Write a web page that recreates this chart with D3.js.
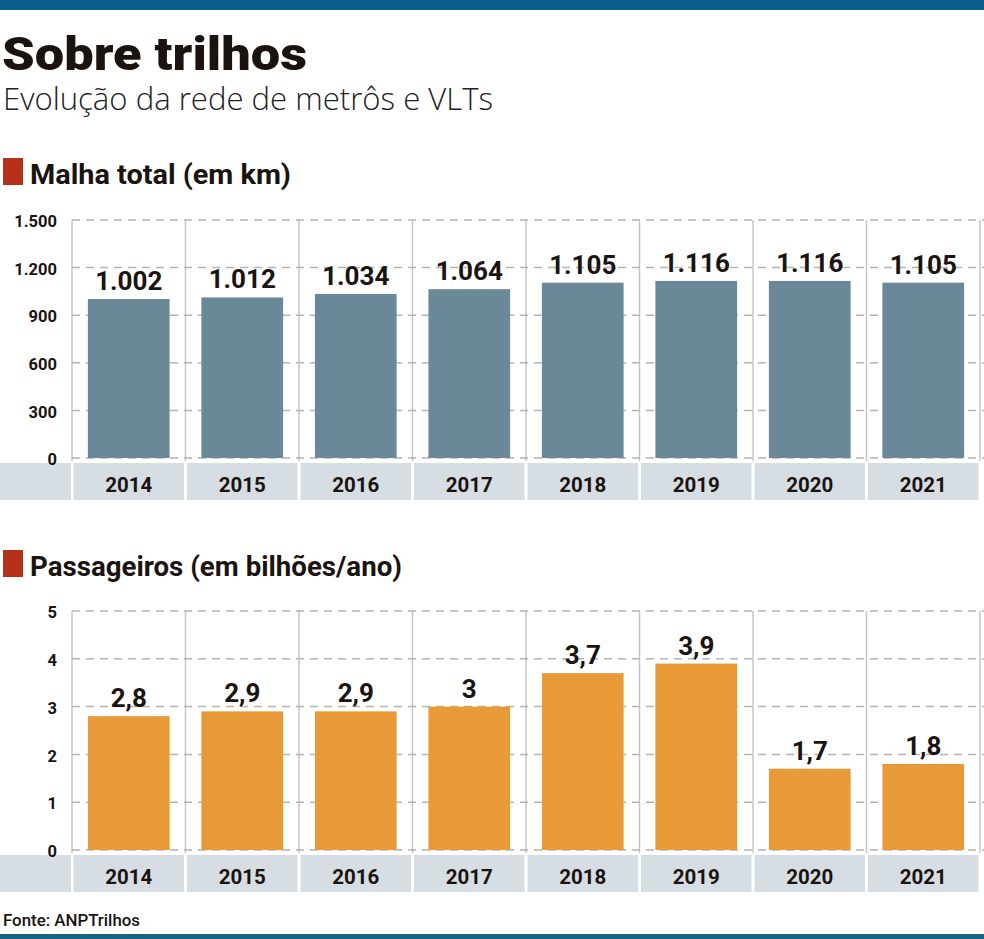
<!DOCTYPE html>
<html><head><meta charset="utf-8">
<script src="https://cdn.jsdelivr.net/npm/d3@7"></script>
<style>body{margin:0;background:#fff}svg{display:block}</style>
</head><body>
<svg id="c" width="984" height="939"></svg>
<script>
const years = ["2014","2015","2016","2017","2018","2019","2020","2021"];
const malha = [1002, 1012, 1034, 1064, 1105, 1116, 1116, 1105];
const passageiros = [2.8, 2.9, 2.9, 3, 3.7, 3.9, 1.7, 1.8];
const malhaTicks = [0, 300, 600, 900, 1200, 1500];
const passTicks = [0, 1, 2, 3, 4, 5];

const loc = d3.formatLocale({decimal: ",", thousands: ".", grouping: [3], currency: ["R$", ""]});
const fmtInt = loc.format(",d");
const fmtDec = v => loc.format(",")(v);

const svg = d3.select("#c");
const FONT = "Roboto, 'Open Sans', sans-serif";

// top & bottom bands
svg.append("rect").attr("x",0).attr("y",0).attr("width",984).attr("height",10).attr("fill","#0b5f8c");
svg.append("rect").attr("x",0).attr("y",934).attr("width",984).attr("height",5).attr("fill","#16667f");

// titles
svg.append("text").attr("x",2).attr("y",70).text("Sobre trilhos")
  .attr("font-family",FONT).attr("font-weight",900).attr("font-size",46).attr("fill","#1a1310")
  .attr("textLength",305).attr("lengthAdjust","spacingAndGlyphs");
svg.append("text").attr("x",3).attr("y",110).text("Evolução da rede de metrôs e VLTs")
  .attr("font-family","'Open Sans', sans-serif").attr("font-weight",300).attr("font-size",31).attr("fill","#222")
  .attr("textLength",490).attr("lengthAdjust","spacingAndGlyphs");

function section(y, label, width){
  svg.append("rect").attr("x",3).attr("y",y-26).attr("width",20).attr("height",27).attr("fill","#b5311c");
  svg.append("text").attr("x",30).attr("y",y).text(label)
    .attr("font-family",FONT).attr("font-weight",700).attr("font-size",27).attr("fill","#1a1310")
    .attr("textLength",width).attr("lengthAdjust","spacingAndGlyphs");
}

function chart(opts){
  const {top, bottom, values, ticks, max, color, tickFmt, valFmt} = opts;
  const g = svg.append("g");
  const x = d3.scaleBand().domain(years).range([72, 980]).paddingInner(0.28).paddingOuter(0.14);
  const y = d3.scaleLinear().domain([0, max]).range([bottom, top]);
  const step = x.step();
  const bounds = d3.range(years.length + 1).map(i => 72 + i * step);

  // category band
  g.append("rect").attr("x",0).attr("y",bottom+5).attr("width",71).attr("height",37).attr("fill","#d6dee4");
  g.selectAll(".cell").data(years).join("rect")
    .attr("x", d => x(d) - x.paddingOuter()*step + 1.5)
    .attr("y", bottom+5).attr("width", step - 3).attr("height", 37).attr("fill","#d6dee4");

  // vertical column lines
  g.selectAll(".vl").data(bounds).join("line")
    .attr("x1", d => d).attr("x2", d => d).attr("y1", top).attr("y2", bottom+3)
    .attr("stroke","#c4c4c4").attr("stroke-width",1.5);

  // dashed grid
  g.selectAll(".hl").data(ticks).join("line")
    .attr("x1",72).attr("x2",984).attr("y1", d => y(d)).attr("y2", d => y(d))
    .attr("stroke","#b4b4b4").attr("stroke-width",1.5).attr("stroke-dasharray","8,6");

  // y axis
  const ax = g.append("g").attr("transform","translate(72,0)")
    .call(d3.axisLeft(y).tickValues(ticks).tickSize(0).tickPadding(15).tickFormat(tickFmt));
  ax.select(".domain").remove();
  ax.selectAll("text").attr("font-family",FONT).attr("font-weight",700).attr("font-size",16.5)
    .attr("fill","#1a1310").attr("dy","0.4em");

  // bars
  g.selectAll(".bar").data(values).join("rect")
    .attr("x", (d,i) => x(years[i])).attr("width", x.bandwidth())
    .attr("y", d => y(d)).attr("height", d => bottom - y(d)).attr("fill", color);

  // value labels
  g.selectAll(".val").data(values).join("text")
    .attr("x", (d,i) => x(years[i]) + x.bandwidth()/2).attr("y", d => y(d) - 9)
    .attr("text-anchor","middle").text(valFmt)
    .attr("font-family",FONT).attr("font-weight",700).attr("font-size",26).attr("fill","#1a1310");

  // year labels
  g.selectAll(".yr").data(years).join("text")
    .attr("x", d => x(d) + x.bandwidth()/2).attr("y", bottom + 34)
    .attr("text-anchor","middle").text(d => d)
    .attr("font-family",FONT).attr("font-weight",700).attr("font-size",20.5).attr("fill","#1a1310");
}

section(184, "Malha total (em km)", 261);
chart({top:220, bottom:458, values:malha, ticks:malhaTicks, max:1500, color:"#6b8898", tickFmt:fmtInt, valFmt:fmtInt});

section(576, "Passageiros (em bilhões/ano)", 372);
chart({top:611, bottom:850, values:passageiros, ticks:passTicks, max:5, color:"#e89a38", tickFmt:d => fmtDec(d), valFmt:fmtDec});

svg.append("text").attr("x",3).attr("y",926).text("Fonte: ANPTrilhos")
  .attr("font-family",FONT).attr("font-weight",500).attr("font-size",16).attr("fill","#1a1310")
  .attr("textLength",137).attr("lengthAdjust","spacingAndGlyphs");
</script>
</body></html>
